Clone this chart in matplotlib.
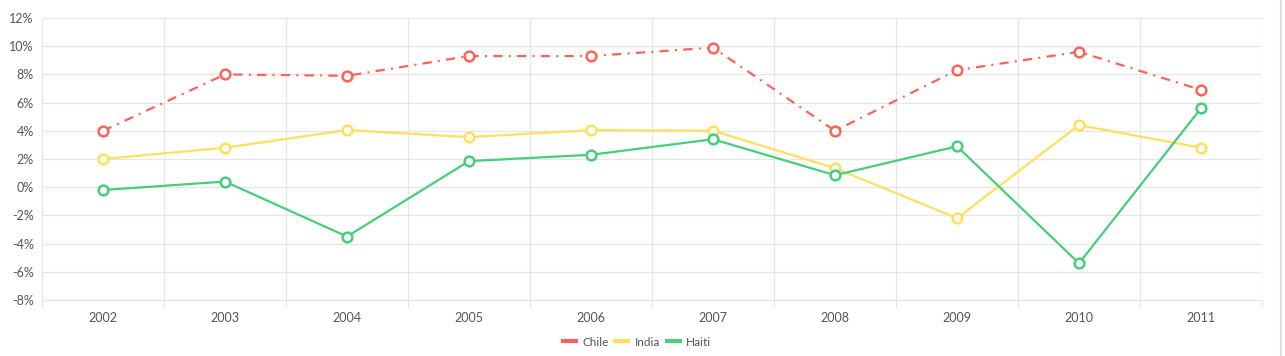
import matplotlib.pyplot as plt
import numpy as np
from matplotlib.ticker import FuncFormatter, FixedLocator

plt.rcParams["font.family"] = ["Lato", "DejaVu Sans"]

anios = ["2002", "2003", "2004", "2005", "2006", "2007", "2008", "2009", "2010", "2011"]
chile = [4.0, 8.0, 7.9, 9.3, 9.3, 9.9, 4.0, 8.3, 9.6, 6.9]
india = [2.0, 2.8, 4.05, 3.55, 4.05, 4.0, 1.35, -2.2, 4.4, 2.8]
haiti = [-0.2, 0.4, -3.5, 1.85, 2.3, 3.4, 0.85, 2.9, -5.4, 5.6]

series = [
    ("Chile", chile, "#ff6257", (0, (4.2, 2.8, 0.9, 2.8))),
    ("India", india, "#ffdf5c", "-"),
    ("Haiti", haiti, "#45cf7a", "-"),
]

fig = plt.figure(figsize=(12.85, 3.56), dpi=100)
ax = fig.add_axes([42 / 1285, 1 - 300 / 356, 1220 / 1285, 282 / 356])

x = np.arange(len(anios))
for nombre, valores, color, estilo in series:
    ax.plot(x, valores, color=color, linestyle=estilo, linewidth=1.6,
            marker="o", markersize=7, markerfacecolor="white",
            markeredgecolor=color, markeredgewidth=1.8, label=nombre, zorder=3)

ax.set_xlim(-0.5, len(anios) - 0.5)
ax.set_ylim(-8, 12)
ax.set_yticks(np.arange(-8, 13, 2))
ax.yaxis.set_major_formatter(FuncFormatter(lambda v, p: f"{v:.0f}%"))
ax.set_xticks(x)
ax.set_xticklabels(anios)
ax.xaxis.set_minor_locator(FixedLocator(np.arange(-0.5, len(anios), 1)))

ax.grid(axis="y", which="major", color="#e6e6e6", linewidth=0.9)
ax.grid(axis="x", which="minor", color="#e6e6e6", linewidth=0.9)
ax.tick_params(axis="x", which="major", length=0, pad=9, labelsize=9, labelcolor="#555555")
ax.tick_params(axis="x", which="minor", length=5, color="#dddddd")
ax.tick_params(axis="y", length=0, pad=6, labelsize=9, labelcolor="#555555")

for lado in ("top", "right", "left"):
    ax.spines[lado].set_visible(False)
ax.spines["bottom"].set_color("#e6e6e6")

leg = fig.legend(loc="center", bbox_to_anchor=(637 / 1285, 1 - 342 / 356), ncol=3,
                 frameon=False, fontsize=8.5, handlelength=1.1, handletextpad=0.5,
                 columnspacing=0.6, labelcolor="#555555")
for h in leg.get_lines():
    h.set_linestyle("-")
    h.set_marker("")
    h.set_linewidth(3)

fig.add_artist(plt.Line2D([1281 / 1285, 1281 / 1285], [0, 1], color="#e0e0e0", linewidth=1.5))

fig.savefig("out.png", dpi=100, facecolor="white")
